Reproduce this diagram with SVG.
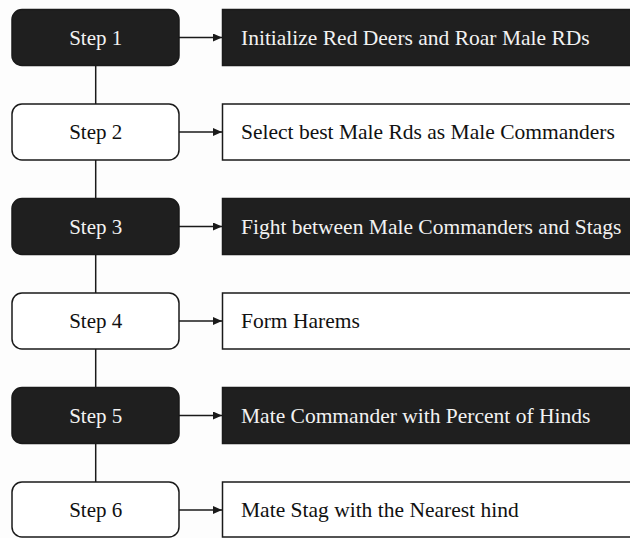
<svg xmlns="http://www.w3.org/2000/svg" width="630" height="538" viewBox="0 0 630 538">
<style>
.box{stroke:#1a1a1a;stroke-width:1.5}
.dark{fill:#1f1f1f}
.light{fill:#ffffff}
.t{font-family:'Liberation Serif','Times New Roman',Tinos,'DejaVu Serif',serif;font-size:21px}
.r{font-size:21.5px}
.tl{fill:#f2f2f2}
.td{fill:#111111}
.c{text-anchor:middle}
.ln{stroke:#1a1a1a;stroke-width:1.5;fill:none}
</style>
<defs>
<marker id="ah" markerWidth="10" markerHeight="10" refX="9" refY="4" orient="auto" markerUnits="userSpaceOnUse">
<path d="M0,0 L9,4 L0,8 Z" fill="#1a1a1a"/>
</marker>
</defs>
<rect width="630" height="538" fill="#fdfdfd"/>
<g id="connectors">
<line class="ln" x1="95.7" y1="65.5" x2="95.7" y2="104"/>
<line class="ln" x1="95.7" y1="160" x2="95.7" y2="198.5"/>
<line class="ln" x1="95.7" y1="254.5" x2="95.7" y2="293"/>
<line class="ln" x1="95.7" y1="349" x2="95.7" y2="387.5"/>
<line class="ln" x1="95.7" y1="443.5" x2="95.7" y2="482"/>
<line class="ln" x1="179" y1="37.5" x2="222" y2="37.5" marker-end="url(#ah)"/>
<line class="ln" x1="179" y1="132" x2="222" y2="132" marker-end="url(#ah)"/>
<line class="ln" x1="179" y1="226.5" x2="222" y2="226.5" marker-end="url(#ah)"/>
<line class="ln" x1="179" y1="321" x2="222" y2="321" marker-end="url(#ah)"/>
<line class="ln" x1="179" y1="415.5" x2="222" y2="415.5" marker-end="url(#ah)"/>
<line class="ln" x1="179" y1="510" x2="222" y2="510" marker-end="url(#ah)"/>
</g>
<g id="step1">
<rect class="box dark" x="12" y="9.5" width="167" height="56" rx="10"/>
<text class="t tl c" x="95.7" y="44.5">Step 1</text>
</g>
<g id="action1">
<rect class="box dark" x="222.5" y="9.5" width="420" height="56"/>
<text class="t r tl" x="241" y="44.5">Initialize Red Deers and Roar Male RDs</text>
</g>
<g id="step2">
<rect class="box light" x="12" y="104" width="167" height="56" rx="10"/>
<text class="t td c" x="95.7" y="139">Step 2</text>
</g>
<g id="action2">
<rect class="box light" x="222.5" y="104" width="420" height="56"/>
<text class="t r td" x="241" y="139">Select best Male Rds as Male Commanders</text>
</g>
<g id="step3">
<rect class="box dark" x="12" y="198.5" width="167" height="56" rx="10"/>
<text class="t tl c" x="95.7" y="233.5">Step 3</text>
</g>
<g id="action3">
<rect class="box dark" x="222.5" y="198.5" width="420" height="56"/>
<text class="t r tl" x="241" y="233.5">Fight between Male Commanders and Stags</text>
</g>
<g id="step4">
<rect class="box light" x="12" y="293" width="167" height="56" rx="10"/>
<text class="t td c" x="95.7" y="328">Step 4</text>
</g>
<g id="action4">
<rect class="box light" x="222.5" y="293" width="420" height="56"/>
<text class="t r td" x="241" y="328">Form Harems</text>
</g>
<g id="step5">
<rect class="box dark" x="12" y="387.5" width="167" height="56" rx="10"/>
<text class="t tl c" x="95.7" y="422.5">Step 5</text>
</g>
<g id="action5">
<rect class="box dark" x="222.5" y="387.5" width="420" height="56"/>
<text class="t r tl" x="241" y="422.5">Mate Commander with Percent of Hinds</text>
</g>
<g id="step6">
<rect class="box light" x="12" y="482" width="167" height="55" rx="10"/>
<text class="t td c" x="95.7" y="517">Step 6</text>
</g>
<g id="action6">
<rect class="box light" x="222.5" y="482" width="420" height="55"/>
<text class="t r td" x="241" y="517">Mate Stag with the Nearest hind</text>
</g>
</svg>
